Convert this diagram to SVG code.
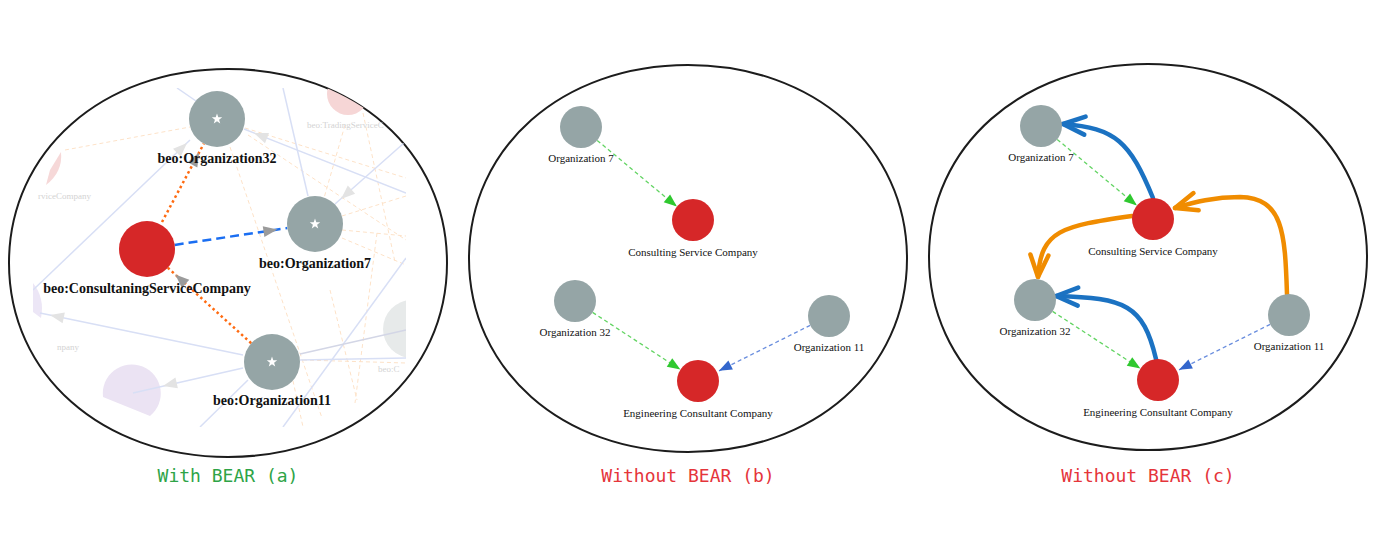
<svg xmlns="http://www.w3.org/2000/svg" xmlns:xlink="http://www.w3.org/1999/xlink" width="1376" height="545" viewBox="0 0 1376 545">
<style>
.frame{fill:none;stroke:#1c1c1c;stroke-width:2}
.gnode{fill:#95a5a6}
.rnode{fill:#d62728}
.blab{font-family:"Liberation Serif","Times New Roman",serif;font-weight:bold;font-size:14px;fill:#111;text-anchor:middle}
.lab{font-family:"Liberation Serif","Times New Roman",serif;font-size:11px;fill:#111;text-anchor:middle}
.faint{font-family:"Liberation Serif","Times New Roman",serif;font-size:9px;fill:#d3d3d3}
.cap{font-family:"DejaVu Sans Mono","Liberation Mono",monospace;font-size:18px;text-anchor:middle}
.fb{stroke:#d8dff5;stroke-width:1.5;fill:none}
.fo{stroke:#fde2c8;stroke-width:1;stroke-dasharray:4 3;fill:none}
.od{stroke:#ff6a10;stroke-width:2.5;stroke-dasharray:2.5 3;fill:none}
.bd{stroke:#1a6ef2;stroke-width:2.5;stroke-dasharray:9 5;fill:none}
.gd{stroke:#62d462;stroke-width:1.3;stroke-dasharray:4 3;fill:none}
.bld{stroke:#6a8ede;stroke-width:1.3;stroke-dasharray:4 3;fill:none}
.tb{stroke:#1b72c2;stroke-width:4.5;fill:none;stroke-linecap:round}
.to{stroke:#f08c00;stroke-width:4.5;fill:none;stroke-linecap:round}
</style>
<defs>
<marker id="ga" markerUnits="userSpaceOnUse" markerWidth="30" markerHeight="12" refX="24" refY="5.5" orient="auto" overflow="visible"><path d="M0,0 L14,5.5 L0,11 Z" fill="#9b9b9b"/></marker>
<marker id="gr" markerUnits="userSpaceOnUse" markerWidth="14" markerHeight="11" refX="13" refY="5" orient="auto" overflow="visible"><path d="M0,0 L13,5 L0,10 Z" fill="#2fc82f"/></marker>
<marker id="bl" markerUnits="userSpaceOnUse" markerWidth="14" markerHeight="11" refX="13" refY="5" orient="auto" overflow="visible"><path d="M0,0 L13,5 L0,10 Z" fill="#3366cc"/></marker>
<marker id="ob" markerUnits="userSpaceOnUse" markerWidth="30" markerHeight="30" refX="26" refY="15" orient="auto" overflow="visible"><path d="M4,6 L26,15 L4,24" fill="none" stroke="#1b72c2" stroke-width="4.5" stroke-linecap="round" stroke-linejoin="round"/></marker>
<marker id="oo" markerUnits="userSpaceOnUse" markerWidth="30" markerHeight="30" refX="26" refY="15" orient="auto" overflow="visible"><path d="M4,6 L26,15 L4,24" fill="none" stroke="#f08c00" stroke-width="4.5" stroke-linecap="round" stroke-linejoin="round"/></marker>
<path id="fah" d="M0,0 L-14,-5.5 L-14,5.5 Z" fill="#e3e3e3"/>
<path id="star" d="M0,-5.5 L1.29,-1.78 L5.23,-1.7 L2.09,0.68 L3.23,4.45 L0,2.2 L-3.23,4.45 L-2.09,0.68 L-5.23,-1.7 L-1.29,-1.78 Z" fill="#ffffff"/>
<clipPath id="clipEll"><path d="M447,263 C447,151.4 353.9,69 228,69 C102.1,69 9,151.4 9,263 C9,374.6 102.1,457 228,457 C353.9,457 447,374.6 447,263 Z"/></clipPath>
<clipPath id="clipRect"><rect x="33" y="88" width="373" height="339"/></clipPath>
</defs>
<rect width="1376" height="545" fill="#ffffff"/>

<!-- Panel frames -->
<g id="frames">
<path class="frame" d="M447,263 C447,151.4 353.9,69 228,69 C102.1,69 9,151.4 9,263 C9,374.6 102.1,457 228,457 C353.9,457 447,374.6 447,263 Z"/>
<path class="frame" d="M907,258.5 C907,147.2 813.9,65 688,65 C562.1,65 469,147.2 469,258.5 C469,369.8 562.1,452 688,452 C813.9,452 907,369.8 907,258.5 Z"/>
<path class="frame" d="M1367,257 C1367,146 1273.9,64 1148,64 C1022.1,64 929,146 929,257 C929,368 1022.1,450 1148,450 C1273.9,450 1367,368 1367,257 Z"/>
</g>

<!-- Panel (a) faded background graph -->
<g id="a-background" clip-path="url(#clipEll)">
<g clip-path="url(#clipRect)">
<circle cx="348" cy="94" r="21" fill="#f6d6d6"/>
<path d="M61,152 Q63,172 46,185 L50,170 Z" fill="#f6d8d8"/>
<path d="M33,283 Q45,298 41,318 L33,312 Z" fill="#ece6f6"/>
<path d="M103,397 A29,29 0 1 1 150,416 Z" fill="#ebe3f3"/>
<circle cx="412" cy="329" r="29" fill="#e7eaea"/>
<line class="fo" x1="65" y1="150" x2="190" y2="127"/>
<line class="fo" x1="245" y1="128" x2="406" y2="178"/>
<line class="fo" x1="248" y1="135" x2="406" y2="240"/>
<line class="fo" x1="230" y1="147" x2="322" y2="418"/>
<line class="fo" x1="363" y1="113" x2="395" y2="262"/>
<line class="fo" x1="345" y1="125" x2="322" y2="205"/>
<line class="fo" x1="342" y1="230" x2="406" y2="236"/>
<line class="fo" x1="342" y1="238" x2="406" y2="265"/>
<line class="fo" x1="342" y1="216" x2="406" y2="196"/>
<line class="fo" x1="377" y1="233" x2="355" y2="403"/>
<line class="fo" x1="330" y1="290" x2="357" y2="400"/>
<line class="fo" x1="290" y1="367" x2="303" y2="427"/>
<line class="fo" x1="303" y1="360" x2="406" y2="363"/>
<line class="fb" x1="177" y1="88" x2="196" y2="101"/>
<line class="fb" x1="33" y1="290" x2="190" y2="140"/>
<line class="fb" x1="283" y1="88" x2="308" y2="196"/>
<line class="fb" x1="406" y1="193" x2="244" y2="129"/>
<line class="fb" x1="404" y1="143" x2="335" y2="204"/>
<line class="fb" x1="243" y1="355" x2="40" y2="313"/>
<line class="fb" x1="243" y1="368" x2="133" y2="393"/>
<line class="fb" x1="200" y1="427" x2="248" y2="380"/>
<line class="fb" x1="283" y1="427" x2="406" y2="258"/>
<line class="fb" x1="300" y1="354" x2="406" y2="330" style="stroke:#d3d6e6"/>
<line class="fb" x1="300" y1="360" x2="406" y2="358"/>
<use xlink:href="#fah" href="#fah" transform="translate(187,143) rotate(-43.7)"/>
<use xlink:href="#fah" href="#fah" transform="translate(254,133) rotate(-158.4)"/>
<use xlink:href="#fah" href="#fah" transform="translate(341,199) rotate(138.5)"/>
<use xlink:href="#fah" href="#fah" transform="translate(50,315) rotate(-168.3)"/>
<use xlink:href="#fah" href="#fah" transform="translate(163,386) rotate(167.2)"/>
<text class="faint" x="307" y="128">beo:TradingServiceC</text>
<text class="faint" x="38" y="199">rviceCompany</text>
<text class="faint" x="57" y="350">npany</text>
<text class="faint" x="378" y="372">beo:C</text>
</g>
</g>

<!-- Connectors -->
<g id="connectors">
<line class="od" x1="162" y1="222" x2="203.8" y2="143.7" marker-end="url(#ga)"/>
<line class="bd" x1="174.7" y1="244.9" x2="287.3" y2="228.1" marker-end="url(#ga)"/>
<line class="od" x1="251.2" y1="343.2" x2="167.8" y2="267.8" marker-end="url(#ga)"/>

<line class="gd" x1="597.2" y1="140.4" x2="676.9" y2="206.6" marker-end="url(#gr)"/>
<line class="gd" x1="592.6" y1="312.4" x2="680.4" y2="369.6" marker-end="url(#gr)"/>
<line class="bld" x1="810.2" y1="325.3" x2="719" y2="370.8" marker-end="url(#bl)"/>

<line class="gd" x1="1057.2" y1="139.4" x2="1136.9" y2="205.6" marker-end="url(#gr)"/>
<line class="gd" x1="1052.6" y1="311.4" x2="1140.4" y2="368.6" marker-end="url(#gr)"/>
<line class="bld" x1="1270.2" y1="324.3" x2="1179" y2="369.8" marker-end="url(#bl)"/>

<path class="tb" d="M1153,198 C1130,142 1116,128 1063,124" marker-end="url(#ob)"/>
<path class="tb" d="M1156,359 C1143,305 1126,298 1056,296" marker-end="url(#ob)"/>
<path class="to" d="M1132,216 C1062,226 1041,230 1038,277" marker-end="url(#oo)"/>
<path class="to" d="M1287,294 C1285,232 1283,198 1240,197 C1214,197 1195,202 1175,208" marker-end="url(#oo)"/>
</g>

<!-- Panel (a) nodes -->
<g id="a-org32">
<circle class="gnode" cx="217" cy="119" r="28"/>
<use xlink:href="#star" href="#star" transform="translate(217,119)"/>
<text class="blab" x="217" y="163">beo:Organization32</text>
</g>
<g id="a-org7">
<circle class="gnode" cx="315" cy="224" r="28"/>
<use xlink:href="#star" href="#star" transform="translate(315,224)"/>
<text class="blab" x="315" y="268">beo:Organization7</text>
</g>
<g id="a-consulting">
<circle class="rnode" cx="147" cy="249" r="28"/>
<text class="blab" x="147" y="293">beo:ConsultaningServiceCompany</text>
</g>
<g id="a-org11">
<circle class="gnode" cx="272" cy="362" r="28"/>
<use xlink:href="#star" href="#star" transform="translate(272,362)"/>
<text class="blab" x="272" y="405">beo:Organization11</text>
</g>

<!-- Panel (b) nodes -->
<g id="b-org7">
<circle class="gnode" cx="581" cy="127" r="21"/>
<text class="lab" x="581" y="162">Organization 7</text>
</g>
<g id="b-consulting">
<circle class="rnode" cx="693" cy="220" r="21"/>
<text class="lab" x="693" y="256">Consulting Service Company</text>
</g>
<g id="b-org32">
<circle class="gnode" cx="575" cy="301" r="21"/>
<text class="lab" x="575" y="336">Organization 32</text>
</g>
<g id="b-org11">
<circle class="gnode" cx="829" cy="316" r="21"/>
<text class="lab" x="829" y="351">Organization 11</text>
</g>
<g id="b-engineering">
<circle class="rnode" cx="698" cy="381" r="21"/>
<text class="lab" x="698" y="417">Engineering Consultant Company</text>
</g>

<!-- Panel (c) nodes -->
<g id="c-org7">
<circle class="gnode" cx="1041" cy="126" r="21"/>
<text class="lab" x="1041" y="161">Organization 7</text>
</g>
<g id="c-consulting">
<circle class="rnode" cx="1153" cy="219" r="21"/>
<text class="lab" x="1153" y="255">Consulting Service Company</text>
</g>
<g id="c-org32">
<circle class="gnode" cx="1035" cy="300" r="21"/>
<text class="lab" x="1035" y="335">Organization 32</text>
</g>
<g id="c-org11">
<circle class="gnode" cx="1289" cy="315" r="21"/>
<text class="lab" x="1289" y="350">Organization 11</text>
</g>
<g id="c-engineering">
<circle class="rnode" cx="1158" cy="380" r="21"/>
<text class="lab" x="1158" y="416">Engineering Consultant Company</text>
</g>

<!-- Captions -->
<g id="captions">
<text class="cap" x="228" y="482" fill="#2ea447">With BEAR (a)</text>
<text class="cap" x="688" y="482" fill="#e5353b">Without BEAR (b)</text>
<text class="cap" x="1148" y="482" fill="#e5353b">Without BEAR (c)</text>
</g>
</svg>
